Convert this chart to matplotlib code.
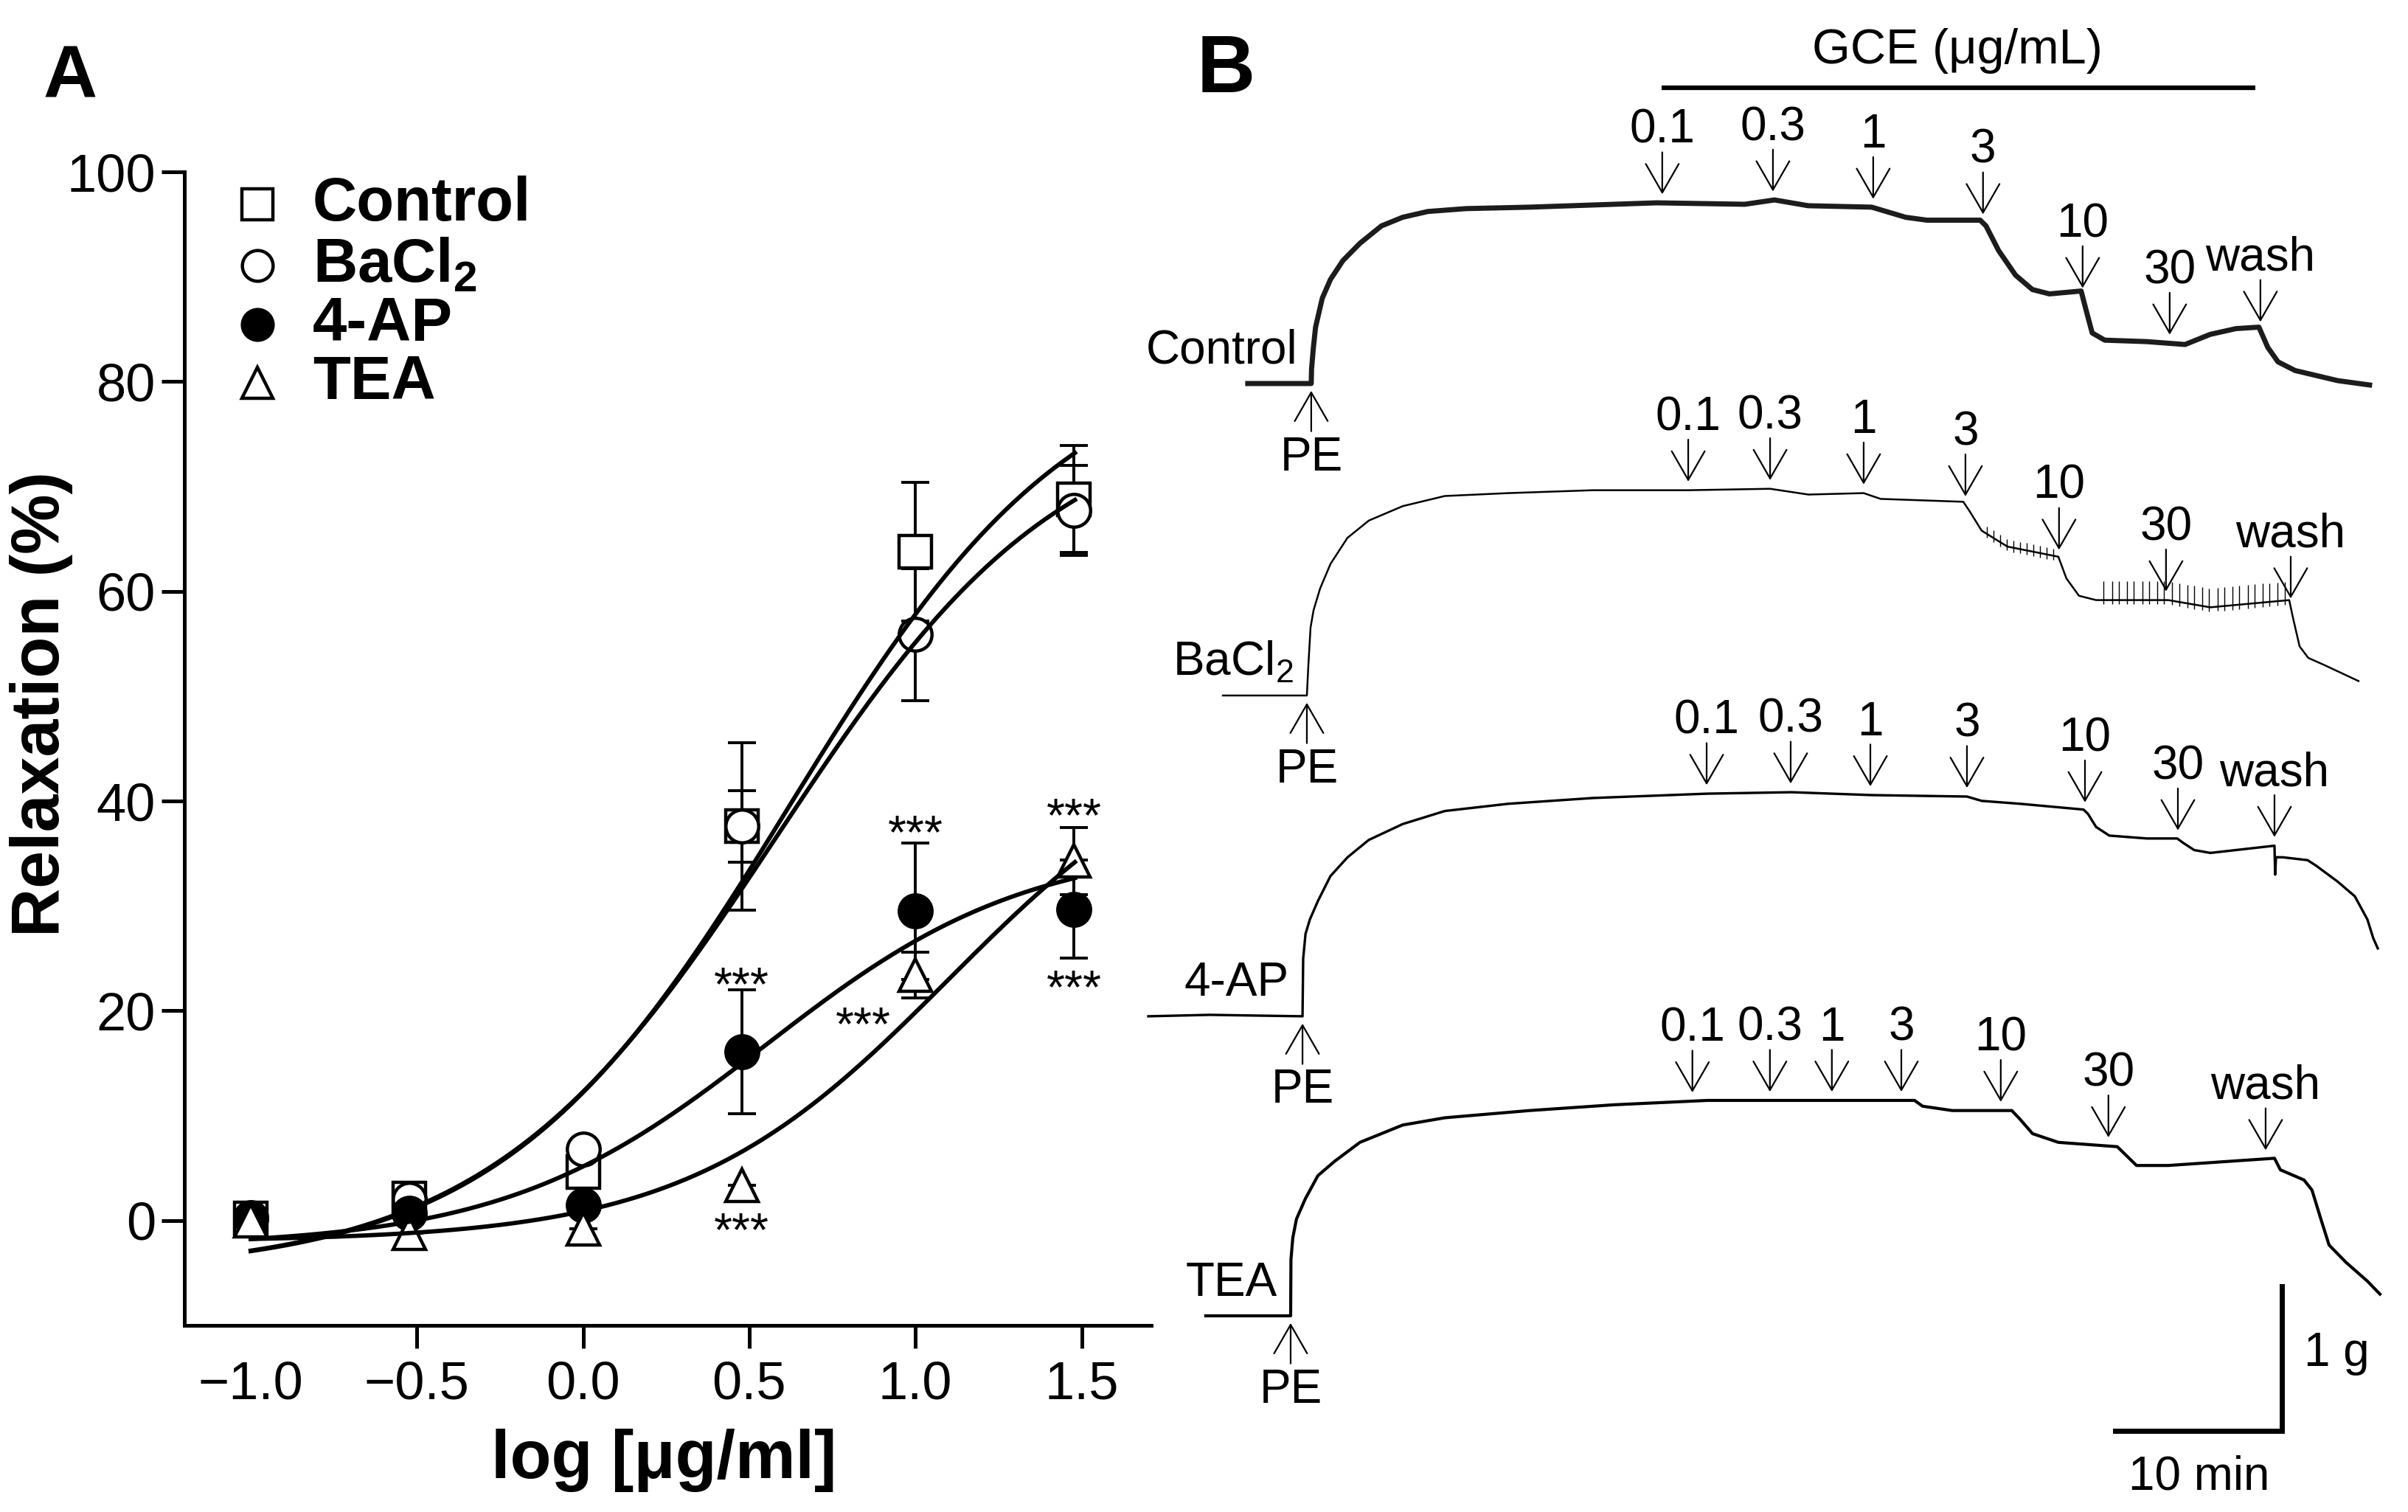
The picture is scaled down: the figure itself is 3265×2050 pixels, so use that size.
import numpy as np
import matplotlib.pyplot as plt

plt.rcParams['font.family'] = ['Liberation Sans', 'DejaVu Sans']
plt.rcParams['mathtext.fontset'] = 'custom'
plt.rcParams['mathtext.rm'] = 'Liberation Sans'
plt.rcParams['mathtext.bf'] = 'Liberation Sans:bold'

# ---------------- panel A: concentration-response ----------------
conc = [0.1, 0.3, 1, 3, 10, 30]          # GCE, ug/ml
ctrl_mean = [0.2, 2.1, 4.6, 37.6, 63.8, 68.8]
ctrl_sem = [0, 0, 0, 3.4, 6.6, 5.1]
bacl_mean = [0.2, 2.0, 6.8, 37.6, 55.9, 67.7]
bacl_sem = [0, 0, 0, 8.0, 6.3, 4.3]
ap_mean = [0.3, 0.7, 1.5, 16.1, 29.5, 29.7]
ap_sem = [0, 0, 0, 5.9, 6.5, 4.7]
tea_mean = [0.0, -1.2, -0.8, 3.4, 23.4, 34.3]
tea_sem = [0, 0, 0, 0, 2.2, 3.2]

# sigmoid fit parameters (bottom, top, logEC50, hill)
fit_bottom = [-5.0, -5.0, -2.5, -2.0]
fit_top = [84.0, 78.0, 36.0, 48.0]
fit_logec50 = [0.62, 0.58, 0.55, 1.10]
fit_hill = [1.0, 1.0, 1.1, 1.1]

group_names = ['Control', r'BaCl$_{\mathbf{2}}$', '4-AP', 'TEA']
group_markers = ['s', 'o', 'o', '^']
group_faces = ['white', 'white', 'black', 'white']

# significance marks: (log conc, relaxation %)
star_x = [0.477, 0.477, 0.843, 1.0, 1.477, 1.477]
star_y = [23.6, 0.2, 19.8, 38.1, 39.7, 23.3]

# ---------------- panel B: tension traces (min after PE, g above baseline) ----------------
ctrl_t = [-3.79, 0, 0.02, 0.13, 0.26, 0.66, 1.15, 1.89, 2.91, 4.19, 5.46, 6.96, 9.25, 13.04,
          20.62, 25.90, 27.67, 29.69, 33.48, 35.51, 36.78, 39.96, 40.31, 41.06, 42.07, 43.08,
          44.10, 45.99, 46.26, 46.65, 47.40, 49.91, 52.20, 53.70, 55.24, 56.61, 57.14, 57.75,
          58.77, 61.32, 63.22]
ctrl_f = [0, 0, 0.10, 0.25, 0.39, 0.59, 0.72, 0.85, 0.97, 1.09, 1.15, 1.19, 1.21, 1.22,
          1.25, 1.24, 1.27, 1.23, 1.22, 1.15, 1.13, 1.13, 1.09, 0.92, 0.75, 0.65,
          0.62, 0.64, 0.52, 0.35, 0.30, 0.29, 0.27, 0.34, 0.38, 0.39, 0.25, 0.15,
          0.09, 0.02, -0.01]

bacl_t = [-5.02, 0, 0.09, 0.22, 0.40, 0.79, 1.41, 2.42, 3.70, 5.73, 8.24, 12.03, 17.09,
          22.78, 27.67, 29.96, 33.26, 34.27, 39.21, 39.56, 40.31, 41.85, 44.89, 45.37, 46.12,
          47.14, 51.45, 53.96, 58.68, 58.90, 59.30, 59.82, 60.79, 62.82]
bacl_f = [0, 0, 0.21, 0.47, 0.59, 0.74, 0.91, 1.09, 1.21, 1.31, 1.38, 1.40, 1.42,
          1.42, 1.43, 1.39, 1.40, 1.36, 1.34, 1.28, 1.14, 1.03, 0.96, 0.81, 0.69,
          0.66, 0.66, 0.61, 0.66, 0.54, 0.34, 0.26, 0.21, 0.10]
# BaCl2 rhythmic spikes
bacl_spike_t = [40.6, 41.0, 41.4, 41.8, 42.2, 42.6, 43.0, 43.4, 43.8, 44.2, 44.6,
                47.6, 48.1, 48.5, 49.0, 49.4, 49.9, 50.3, 50.8, 51.2, 51.7, 52.1, 52.6, 53.0,
                53.5, 53.9, 54.4, 54.8, 55.3, 55.7, 56.2, 56.6, 57.1, 57.5, 58.0, 58.4]
bacl_spike_h = [0.05] * 11 + [0.13] * 25

ap_t = [-9.21, -5.55, 0, 0.04, 0.18, 0.44, 0.93, 1.67, 2.69, 3.96, 5.99, 8.50, 12.29, 17.36,
        24.19, 29.21, 34.01, 39.69, 40.57, 42.86, 46.65, 46.92, 47.40, 48.19, 50.44, 52.25,
        52.60, 53.26, 54.23, 58.06, 58.10, 58.15, 58.55, 60.04, 60.57, 61.85, 62.86, 63.61,
        63.96, 64.23]
ap_f = [0, 0.01, 0, 0.40, 0.57, 0.67, 0.80, 0.97, 1.10, 1.22, 1.33, 1.42, 1.47, 1.51,
        1.54, 1.55, 1.53, 1.52, 1.49, 1.47, 1.43, 1.40, 1.31, 1.25, 1.23, 1.23,
        1.20, 1.15, 1.13, 1.18, 0.98, 1.10, 1.10, 1.08, 1.04, 0.93, 0.83, 0.67,
        0.54, 0.47]

tea_t = [-5.07, 0, 0.02, 0.13, 0.35, 0.88, 1.63, 2.64, 4.14, 6.70, 9.21, 14.27, 19.34, 24.89,
         37.27, 37.75, 39.52, 43.08, 43.57, 44.32, 45.86, 49.38, 49.91, 50.53, 52.42, 58.77,
         59.12, 60.53, 61.01, 61.54, 62.03, 63.04, 64.32, 65.07]
tea_f = [0, 0, 0.39, 0.54, 0.67, 0.81, 0.97, 1.07, 1.20, 1.32, 1.37, 1.42, 1.46, 1.49,
         1.49, 1.45, 1.42, 1.42, 1.36, 1.26, 1.20, 1.17, 1.11, 1.04, 1.04, 1.09,
         1.01, 0.94, 0.87, 0.67, 0.49, 0.37, 0.24, 0.15]

dose_labels = ['0.1', '0.3', '1', '3', '10', '30', 'wash']
ctrl_dose_t = [20.97, 27.58, 33.57, 40.13, 46.08, 51.28, 56.70]
bacl_dose_t = [22.78, 27.67, 33.26, 39.34, 44.93, 51.32, 58.77]
ap_dose_t = [24.14, 29.16, 33.92, 39.69, 46.74, 52.29, 58.06]
tea_dose_t = [24.00, 28.63, 32.33, 36.48, 42.42, 48.85, 58.24]

trace_names = ['Control', 'BaCl$_2$', '4-AP', 'TEA']

# ---------------- figure ----------------
fig = plt.figure(figsize=(32.66, 20.5), dpi=100)

ax = fig.add_axes([0.0765, 0.1234, 0.4015, 0.7629])
logc = np.log10(conc)
xs = np.linspace(-1.0, 1.48, 300)
means = [ctrl_mean, bacl_mean, ap_mean, tea_mean]
sems = [ctrl_sem, bacl_sem, ap_sem, tea_sem]
for i in range(4):
    ax.errorbar(logc, means[i], yerr=sems[i], fmt='none', ecolor='black',
                elinewidth=2.8, capsize=14, capthick=2.8, zorder=2)
    ax.plot(logc, means[i], linestyle='none', marker=group_markers[i], markersize=32,
            markerfacecolor=group_faces[i], markeredgecolor='black', markeredgewidth=3.2,
            zorder=3)
    fit = fit_bottom[i] + (fit_top[i] - fit_bottom[i]) / (
        1 + 10 ** ((fit_logec50[i] - xs) * fit_hill[i]))
    ax.plot(xs, fit, color='black', lw=4.2, zorder=4)

for sx, sy in zip(star_x, star_y):
    ax.text(sx, sy - 2.6, '***', fontsize=46, ha='center', va='baseline', zorder=5)

ax.set_xlim(-1.2, 1.71)
ax.set_ylim(-10, 100)
ax.set_xticks([-1.0, -0.5, 0.0, 0.5, 1.0, 1.5])
ax.set_yticks([0, 20, 40, 60, 80, 100])
for s in ['top', 'right']:
    ax.spines[s].set_visible(False)
for s in ['left', 'bottom']:
    ax.spines[s].set_linewidth(3.6)
ax.tick_params(width=3.6, length=22, labelsize=52)
ax.tick_params(axis='x', pad=12)
ax.tick_params(axis='y', pad=6)
ax.xaxis.get_major_ticks()[0].tick1line.set_visible(False)

fig.text(900 / 3266, 1 - 1980 / 2050, 'log [μg/ml]', fontsize=66, fontweight='bold',
         ha='center', va='center')
fig.text(56 / 3266, 1 - 954 / 2050, 'Relaxation (%)', fontsize=66, fontweight='bold',
         ha='center', va='center', rotation=90)
fig.text(58 / 3266, 1 - 59 / 2050, 'A', fontsize=73, fontweight='bold', ha='left', va='top')

# legend drawn by hand
leg_y = [0.972, 0.919, 0.868, 0.817]
for i in range(4):
    ax.plot(0.0755, leg_y[i], transform=ax.transAxes, marker=group_markers[i],
            markersize=30, markerfacecolor=group_faces[i], markeredgecolor='black',
            markeredgewidth=3.2, clip_on=False)
    ax.text(0.1327, leg_y[i], group_names[i], transform=ax.transAxes, fontsize=60,
            fontweight='bold', ha='left', va='center')

# ---------------- panel B ----------------
axb = fig.add_axes([1540 / 3266, 0, 1 - 1540 / 3266, 1])
axb.set_xlim(0, 76.04)
axb.set_ylim(0, 10.459)
axb.axis('off')

pe_x = [10.48, 10.22, 9.96, 9.25]
base_y = [7.806, 5.648, 3.429, 1.357]
traces_t = [ctrl_t, bacl_t, ap_t, tea_t]
traces_f = [ctrl_f, bacl_f, ap_f, tea_f]
doses_t = [ctrl_dose_t, bacl_dose_t, ap_dose_t, tea_dose_t]
trace_lw = [5.0, 1.8, 2.4, 3.0]
trace_col = ['#1c1c1c', 'black', 'black', 'black']

arrow_kw = dict(arrowstyle='->,head_length=0.4,head_width=0.23', lw=1.6, color='black',
                shrinkA=0, shrinkB=0, mutation_scale=70)
gap, alen = 0.06, 0.29

for i in range(4):
    tx = np.array(traces_t[i]) + pe_x[i]
    ty = np.array(traces_f[i]) + base_y[i]
    axb.plot(tx, ty, color=trace_col[i], lw=trace_lw[i], solid_joinstyle='round')
    # drug additions
    for lab, dt in zip(dose_labels, doses_t[i]):
        x = pe_x[i] + dt
        tip = np.interp(x, tx, ty) + gap
        tail = tip + alen
        axb.annotate('', xy=(x, tip), xytext=(x, tail), arrowprops=arrow_kw)
        axb.text(x, tail + 0.065, lab, fontsize=46, ha='center', va='baseline')
    # PE addition
    tip = base_y[i] - 0.05
    tail = tip - 0.28
    axb.annotate('', xy=(pe_x[i], tip), xytext=(pe_x[i], tail), arrowprops=arrow_kw)
    axb.text(pe_x[i], tail - 0.03, 'PE', fontsize=46, ha='center', va='top')
    axb.text(pe_x[i] - 0.8, base_y[i] + 0.14, trace_names[i], fontsize=46,
             ha='right', va='baseline')

# BaCl2 oscillations
sx = np.array(bacl_spike_t) + pe_x[1]
sb = np.interp(sx, np.array(bacl_t) + pe_x[1], np.array(bacl_f) + base_y[1])
axb.vlines(sx, sb - 0.03, sb + np.array(bacl_spike_h), color='black', lw=1.0)

# GCE bar
axb.plot([31.41, 66.87], [9.852, 9.852], color='black', lw=4.5, solid_capstyle='butt')
axb.text(49.07, 10.107, 'GCE (μg/mL)', fontsize=48, ha='center', va='center')

# scale bars
axb.plot([58.50, 68.46, 68.46], [0.561, 0.561, 1.561], color='black', lw=5,
         solid_joinstyle='miter')
axb.text(71.72, 1.097, '1 g', fontsize=46, ha='center', va='center')
axb.text(63.52, 0.24, '10 min', fontsize=46, ha='center', va='center')

fig.text(1623 / 3266, 1 - 46 / 2050, 'B', fontsize=79, fontweight='bold', ha='left', va='top')

fig.savefig('out.png', dpi=100)
